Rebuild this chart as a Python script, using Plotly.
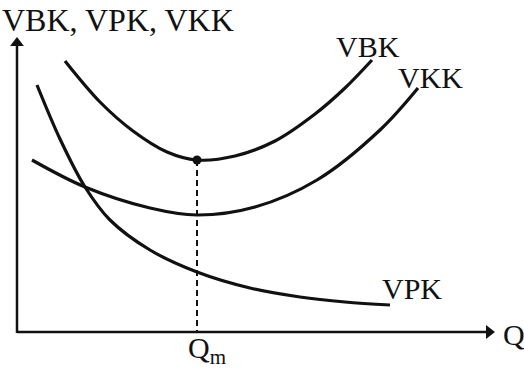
import plotly.graph_objects as go

# Curve data in diagram units (pixel-like coordinate frame, y downward)
vbk_x = [65, 100, 133, 167, 197, 235, 275, 315, 345, 372]
vbk_y = [61, 102, 131, 152, 160, 156, 141, 114, 88, 60]

vkk_x = [32, 85, 150, 197, 255, 317, 380, 418]
vkk_y = [160, 187, 208, 215, 207, 180, 130, 88]

vpk_x = [37, 60, 85, 110, 150, 197, 250, 300, 345, 390]
vpk_y = [85, 139, 187, 220, 250, 272, 288, 297, 302, 305]

q_m = 197
q_m_level = 160
axis_origin = (17, 332)
axis_x_end = 495
axis_y_end = 37

labels = ["VBK", "VKK", "VPK"]
label_pos = [(368, 46), (430, 77), (412, 288)]

font = "Liberation Serif"
ink = "#111111"

fig = go.Figure()
for xs, ys in [(vbk_x, vbk_y), (vkk_x, vkk_y), (vpk_x, vpk_y)]:
    fig.add_trace(go.Scatter(x=xs, y=ys, mode="lines",
                             line=dict(color=ink, width=3.2, shape="spline", smoothing=1.0),
                             hoverinfo="skip", showlegend=False))

# dashed line
fig.add_trace(go.Scatter(x=[q_m, q_m], y=[q_m_level, axis_origin[1]], mode="lines",
                         line=dict(color=ink, width=2, dash="6px,4px"), showlegend=False))
# dot
fig.add_trace(go.Scatter(x=[q_m], y=[q_m_level], mode="markers",
                         marker=dict(color=ink, size=9), showlegend=False))

# axes lines
fig.add_trace(go.Scatter(x=[axis_origin[0], axis_x_end - 8], y=[axis_origin[1], axis_origin[1]],
                         mode="lines", line=dict(color=ink, width=2.5), showlegend=False))
fig.add_trace(go.Scatter(x=[axis_origin[0], axis_origin[0]], y=[axis_origin[1] + 1, axis_y_end + 8],
                         mode="lines", line=dict(color=ink, width=2.5), showlegend=False))
# arrowheads
fig.add_trace(go.Scatter(x=[axis_x_end - 6], y=[axis_origin[1]], mode="markers",
                         marker=dict(symbol="triangle-right", size=12, color=ink), showlegend=False))
fig.add_trace(go.Scatter(x=[axis_origin[0]], y=[axis_y_end + 6], mode="markers",
                         marker=dict(symbol="triangle-up", size=12, color=ink), showlegend=False))

for t, (x, y) in zip(labels, label_pos):
    fig.add_annotation(x=x, y=y, text=t, showarrow=False, font=dict(family=font, size=30, color=ink))

fig.add_annotation(x=0, y=1.0, xref="paper", yref="paper", xanchor="left", yanchor="top",
                   text="VBK, VPK, VKK", showarrow=False,
                   font=dict(family=font, size=32, color=ink))
fig.add_annotation(x=501, y=334, text="Q", xanchor="left", showarrow=False,
                   font=dict(family=font, size=30, color=ink))
fig.add_annotation(x=186, y=350, text="Q<sub>m</sub>", xanchor="left", showarrow=False,
                   font=dict(family=font, size=30, color=ink))

fig.update_layout(width=524, height=369, margin=dict(l=0, r=0, t=0, b=0),
                  plot_bgcolor="white", paper_bgcolor="white",
                  xaxis=dict(range=[0, 524], visible=False, fixedrange=True),
                  yaxis=dict(range=[369, 0], visible=False, fixedrange=True))
fig.write_html("out.html", config={"displayModeBar": False},
               post_script="document.body.style.margin='0';document.body.style.overflow='hidden';")
